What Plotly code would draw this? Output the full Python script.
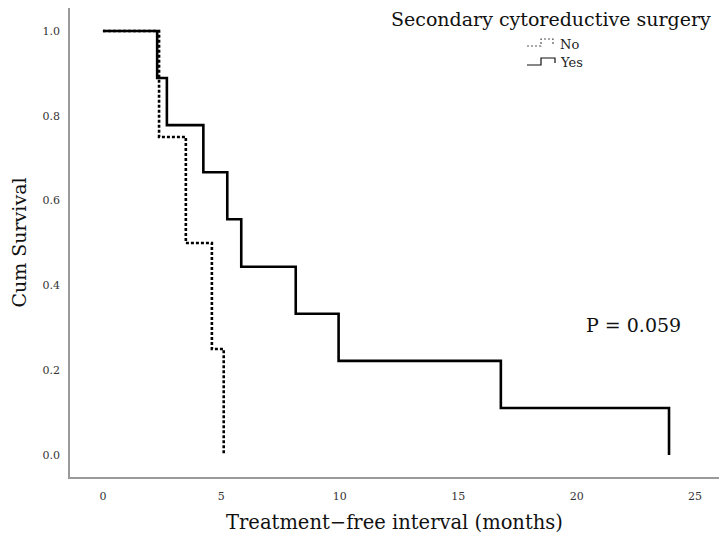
import plotly.graph_objects as go

# Kaplan-Meier step estimates, treatment-free interval in months
yes_months = [0, 2.29, 2.70, 4.24, 5.25, 5.84, 8.14, 9.95, 16.80, 23.90]
yes_survival = [1.0, 0.889, 0.778, 0.667, 0.556, 0.444, 0.333, 0.222, 0.111, 0.0]

no_months = [0, 2.37, 3.50, 4.60, 5.10]
no_survival = [1.0, 0.75, 0.50, 0.25, 0.0]

x_ticks = [0, 5, 10, 15, 20, 25]
y_ticks = [0.0, 0.2, 0.4, 0.6, 0.8, 1.0]

W, H = 719, 538
ML, MR, MT, MB = 70, 0, 8, 61
PW, PH = W - ML - MR, H - MT - MB

SERIF = "DejaVu Serif"


def px(x, y):
    """Pixel position -> paper coordinates."""
    return (x - ML) / PW, (H - MB - y) / PH


fig = go.Figure()

fig.add_trace(go.Scatter(
    x=no_months, y=no_survival, mode="lines", line_shape="hv",
    line=dict(color="black", width=2.6, dash="3px,2px"),
    name="No", showlegend=False,
))
fig.add_trace(go.Scatter(
    x=yes_months, y=yes_survival, mode="lines", line_shape="hv",
    line=dict(color="black", width=2.6),
    name="Yes", showlegend=False,
))

# Legend key glyphs (small step shapes)
def step_path(pts):
    p = [px(*pt) for pt in pts]
    return "M " + " L ".join(f"{a:.5f},{b:.5f}" for a, b in p)

shapes = [
    dict(type="path", xref="paper", yref="paper",
         path=step_path([(527, 46), (541, 46), (541, 39), (553, 39), (553, 45)]),
         line=dict(color="#555", width=1.2, dash="2px,2px")),
    dict(type="path", xref="paper", yref="paper",
         path=step_path([(527, 65), (541, 65), (541, 58), (555, 58), (555, 63)]),
         line=dict(color="#111", width=1.2)),
]

annotations = [
    dict(text="Secondary cytoreductive surgery", xref="paper", yref="paper",
         x=px(389, 0)[0], y=px(0, 19)[1], xanchor="left", yanchor="middle",
         showarrow=False, font=dict(family=SERIF, size=19, color="#111")),
    dict(text="No", xref="paper", yref="paper",
         x=px(558, 0)[0], y=px(0, 44)[1], xanchor="left", yanchor="middle",
         showarrow=False, font=dict(family=SERIF, size=13, color="#222")),
    dict(text="Yes", xref="paper", yref="paper",
         x=px(558, 0)[0], y=px(0, 63)[1], xanchor="left", yanchor="middle",
         showarrow=False, font=dict(family=SERIF, size=13, color="#222")),
    dict(text="P = 0.059", xref="paper", yref="paper",
         x=px(633, 0)[0], y=px(0, 325)[1], xanchor="center", yanchor="middle",
         showarrow=False, font=dict(family=SERIF, size=19, color="#111")),
]

fig.update_layout(
    width=W, height=H,
    margin=dict(l=ML, r=MR, t=MT, b=MB),
    paper_bgcolor="white", plot_bgcolor="white",
    shapes=shapes, annotations=annotations,
    xaxis=dict(
        range=[-1.39, 26.01], tickvals=x_ticks,
        ticktext=[str(v) for v in x_ticks],
        showgrid=False, zeroline=False,
        showline=True, linecolor="#9a9a9a", linewidth=1.6,
        ticks="", ticklabelstandoff=8,
        tickfont=dict(family=SERIF, size=11, color="#333"),
        title=dict(text="Treatment\u2212free interval (months)",
                   font=dict(family=SERIF, size=19.5, color="#111"), standoff=13),
    ),
    yaxis=dict(
        range=[-0.0519, 1.0542], tickvals=y_ticks,
        ticktext=[f"{v:.1f}" for v in y_ticks],
        showgrid=False, zeroline=False,
        showline=True, linecolor="#9a9a9a", linewidth=1.6,
        ticks="", ticklabelstandoff=6,
        tickfont=dict(family=SERIF, size=11, color="#333"),
        title=dict(text="Cum Survival",
                   font=dict(family=SERIF, size=19, color="#111"), standoff=11),
    ),
)

fig.write_html("out.html")
